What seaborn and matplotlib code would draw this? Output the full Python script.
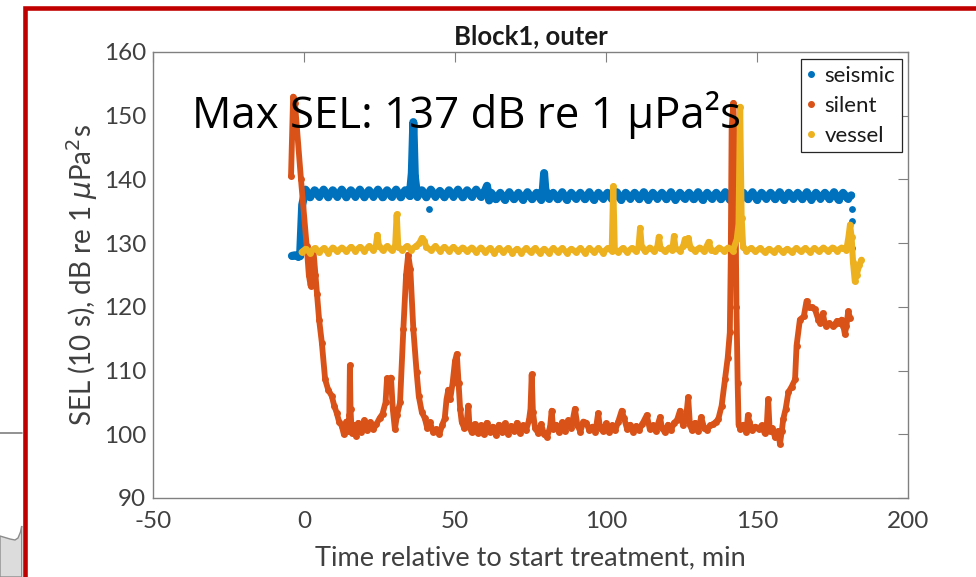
import matplotlib
matplotlib.use("Agg")
import matplotlib.pyplot as plt
from matplotlib.lines import Line2D
from matplotlib.patches import Rectangle, Polygon
import pandas as pd
import seaborn as sns

# ---- chart text and ticks ----
title = "Block1, outer"
x_label = "Time relative to start treatment, min"
y_label = r"SEL (10 s), dB re 1 $\mu$Pa$^2$s"
note = "Max SEL: 137 dB re 1 μPa²s"
series_names = ["seismic", "silent", "vessel"]
x_ticks = [-50, 0, 50, 100, 150, 200]
y_ticks = [90, 100, 110, 120, 130, 140, 150, 160]

# ---- SEL readings: (minutes from treatment start, dB) ----
seismic_readings = [
    (-4.0, 128.0), (-3.0, 128.1), (-2.0, 127.9), (-1.3, 128.0), (-1.0, 131.5), (-0.8, 134.0), (-0.6, 136.0),
    (0.5, 138.4), (2.0, 137.2), (3.5, 138.3), (5.0, 137.3), (6.5, 138.4), (8.0, 137.2), (9.5, 138.3),
    (11.0, 137.3), (12.5, 138.4), (14.0, 137.2), (15.5, 138.3), (17.0, 137.3), (18.5, 138.4), (20.0, 137.2),
    (21.5, 138.3), (23.0, 137.3), (24.5, 138.4), (26.0, 137.2), (27.5, 138.3), (29.0, 137.3), (30.5, 138.4),
    (32.0, 137.2), (33.5, 138.3), (35.0, 137.4), (35.7, 141.0), (36.2, 149.0), (36.7, 140.5),
    (37.5, 137.3), (39.0, 138.3), (40.5, 137.2), (42.0, 138.4), (43.5, 137.3), (45.0, 138.2), (46.5, 137.2),
    (48.0, 138.3), (49.5, 137.3), (51.0, 138.4), (52.5, 137.2), (54.0, 138.3), (55.5, 137.3), (57.0, 138.4),
    (58.5, 137.3), (60.0, 138.3), (60.6, 139.0), (61.3, 136.7), (62.0, 137.9), (63.5, 136.9), (65.0, 137.9),
    (66.5, 136.8), (68.0, 138.0), (69.5, 136.9), (71.0, 137.9), (72.5, 136.8), (74.0, 138.0), (75.5, 136.9),
    (77.0, 137.9), (78.5, 136.8), (79.1, 138.5), (79.5, 141.0), (79.9, 138.5),
    (81.0, 137.0), (82.5, 137.9), (84.0, 136.9), (85.5, 138.0), (87.0, 136.8), (88.5, 137.9), (90.0, 137.0),
    (91.5, 137.9), (93.0, 136.9), (94.5, 138.0), (96.0, 136.8), (97.5, 137.9), (99.0, 137.0), (100.5, 137.9),
    (102.0, 136.9), (103.5, 138.0), (105.0, 136.8), (106.5, 137.9), (108.0, 137.0), (109.5, 137.9),
    (111.0, 136.9), (112.5, 138.0), (114.0, 136.8), (115.5, 137.9), (117.0, 137.0), (118.5, 137.9),
    (120.0, 136.9), (121.5, 138.0), (123.0, 136.8), (124.5, 137.9), (126.0, 137.0), (127.5, 137.9),
    (129.0, 136.9), (130.5, 138.0), (132.0, 136.8), (133.5, 137.9), (135.0, 137.0), (136.5, 137.9),
    (138.0, 136.9), (139.5, 138.0), (141.0, 136.8), (142.5, 137.9), (144.0, 137.0), (145.5, 137.9),
    (147.0, 136.9), (148.5, 138.0), (150.0, 136.8), (151.5, 137.9), (153.0, 137.0), (154.5, 137.9),
    (156.0, 136.9), (157.5, 138.0), (159.0, 136.8), (160.5, 137.9), (162.0, 137.0), (163.5, 137.9),
    (165.0, 136.9), (166.5, 138.0), (168.0, 136.8), (169.5, 137.9), (171.0, 137.0), (172.5, 137.9),
    (174.0, 136.9), (175.5, 138.0), (177.0, 136.8), (178.5, 137.9), (180.0, 137.0), (181.2, 137.5),
]
# isolated seismic readings away from the main track
seismic_isolated = [(41.5, 135.4), (181.3, 135.4), (181.3, 133.4), (181.3, 129.3)]

silent_readings = [
    (-4.3, 140.5), (-3.6, 153.0), (-3.0, 152.0), (-1.0, 140.0), (0.9, 129.5), (1.6, 125.0), (2.2, 123.3),
    (2.7, 126.0), (3.1, 129.0), (3.8, 125.0), (4.3, 122.0), (5.0, 118.0), (5.9, 114.4), (7.0, 108.6),
    (8.0, 107.0), (9.2, 106.0), (10.0, 104.5), (10.8, 103.4), (11.6, 102.0), (12.5, 101.3), (13.2, 100.0),
    (14.0, 102.0), (14.6, 100.5), (15.0, 103.0), (15.2, 110.8), (15.4, 104.0), (15.8, 100.2), (16.5, 101.5),
    (17.2, 99.8), (18.0, 101.8), (19.0, 100.4), (20.0, 102.2), (21.0, 100.6), (22.0, 101.9), (23.0, 100.8),
    (24.0, 101.6), (25.0, 102.5), (26.0, 103.2), (27.0, 105.0), (27.5, 108.8), (28.2, 108.0), (28.8, 108.9),
    (29.4, 104.0), (30.1, 100.8), (30.8, 103.0), (31.8, 105.0), (32.9, 116.5), (33.8, 125.0), (34.5, 128.2),
    (35.2, 126.0), (36.2, 116.5), (37.3, 109.7), (38.0, 106.0), (39.0, 103.5), (40.0, 102.5), (40.8, 101.0),
    (41.7, 101.9), (42.7, 100.4), (43.8, 100.8), (44.8, 100.0), (45.8, 101.5), (46.6, 102.5), (47.2, 105.5),
    (47.8, 107.0), (48.4, 105.5), (49.2, 108.0), (50.0, 111.5), (50.6, 112.6), (51.2, 108.0), (51.7, 104.0),
    (52.2, 102.0), (53.0, 101.0), (53.8, 101.5), (54.4, 104.5), (54.8, 101.2), (55.5, 100.3), (56.5, 101.6),
    (57.5, 100.2), (58.5, 101.4), (59.5, 100.0), (60.5, 101.8), (61.5, 100.4), (62.5, 101.2), (63.5, 99.9),
    (64.5, 101.5), (65.5, 100.3), (66.5, 101.7), (67.5, 100.1), (68.5, 101.3), (69.5, 100.5), (70.5, 101.8),
    (71.5, 100.2), (72.5, 101.4), (73.5, 100.6), (74.5, 102.2), (75.0, 104.0), (75.4, 109.4), (75.8, 103.5),
    (76.5, 101.0), (77.5, 100.2), (78.5, 101.6), (79.5, 100.0), (80.5, 99.6), (81.5, 101.2), (82.0, 103.7),
    (82.5, 100.8), (83.5, 101.5), (84.5, 100.3), (85.5, 101.9), (86.5, 100.5), (87.5, 102.2), (88.5, 101.0),
    (89.7, 104.0), (90.5, 101.5), (91.5, 100.4), (92.5, 102.0), (93.5, 101.8), (94.5, 100.6), (95.5, 101.2),
    (96.5, 100.4), (97.4, 103.3), (98.0, 101.0), (99.0, 100.5), (100.0, 101.7), (101.0, 100.3), (102.0, 101.4),
    (103.0, 100.6), (104.0, 101.9), (105.2, 103.7), (106.0, 102.5), (107.0, 100.8), (108.0, 101.5),
    (109.0, 100.4), (110.0, 101.3), (111.0, 100.7), (112.0, 101.6), (113.5, 103.0), (114.5, 100.8),
    (115.5, 101.4), (116.5, 100.5), (117.9, 102.7), (118.5, 101.0), (119.5, 100.3), (120.5, 101.5),
    (121.5, 100.6), (122.5, 101.8), (123.5, 102.2), (124.5, 103.7), (125.5, 101.4), (126.5, 102.5),
    (127.2, 105.8), (127.8, 101.5), (128.5, 100.6), (129.5, 101.8), (130.5, 100.5), (131.5, 102.7),
    (132.5, 101.0), (133.5, 100.7), (134.5, 101.4), (135.5, 101.6), (136.5, 102.0), (137.2, 102.4),
    (138.3, 104.5), (139.4, 108.6), (140.3, 112.0), (141.0, 116.0), (141.3, 127.0), (141.6, 148.0),
    (142.2, 152.0), (142.8, 140.0), (143.2, 120.0), (143.6, 108.0), (143.9, 101.5), (144.5, 100.8),
    (145.5, 101.5), (146.5, 100.4), (147.0, 103.0), (147.5, 101.9), (148.5, 100.6), (149.5, 101.2),
    (150.5, 100.8), (151.5, 101.4), (152.5, 100.2), (153.2, 101.0), (153.7, 105.5), (154.2, 100.5),
    (155.0, 101.0), (156.0, 99.5), (157.0, 100.5), (157.6, 98.5), (158.2, 100.5), (158.7, 102.4),
    (159.5, 104.0), (160.4, 106.6), (161.5, 107.5), (162.6, 108.6), (163.1, 113.9), (164.2, 118.0),
    (165.5, 118.5), (166.4, 120.9), (167.2, 120.0), (168.1, 119.9), (169.2, 119.6), (170.3, 118.0),
    (171.0, 117.5), (171.8, 119.0), (172.4, 117.5), (173.0, 117.0), (174.0, 117.4), (175.0, 117.0),
    (175.8, 117.3), (176.5, 117.8), (177.3, 117.5), (178.0, 118.0), (178.6, 117.0), (179.1, 115.7),
    (179.6, 117.0), (180.2, 119.3), (180.8, 118.3),
]

vessel_readings = [
    (-0.8, 128.6), (0.5, 129.1), (2.0, 128.5), (3.5, 129.2), (5.0, 128.6), (6.5, 129.2), (8.0, 128.5),
    (9.5, 129.3), (11.0, 128.7), (12.5, 129.3), (14.0, 128.7), (15.5, 129.4), (17.0, 128.8), (18.5, 129.4),
    (20.0, 128.8), (21.5, 129.5), (23.0, 128.9), (23.8, 129.6), (24.3, 131.3), (24.8, 129.6), (26.0, 128.9),
    (27.5, 129.5), (29.0, 128.9), (30.2, 129.6), (30.7, 134.5), (31.2, 129.4), (32.5, 128.9), (34.0, 129.5),
    (35.5, 129.0), (37.0, 129.5), (38.2, 130.0), (39.0, 130.8), (39.8, 130.4), (40.5, 129.4), (42.0, 128.9),
    (43.5, 129.5), (45.0, 128.8), (46.5, 129.4), (48.0, 128.8), (49.5, 129.4), (51.0, 128.7), (52.5, 129.3),
    (54.0, 128.7), (55.5, 129.3), (57.0, 128.6), (58.5, 129.3), (60.0, 128.6), (61.5, 129.2), (63.0, 128.5),
    (64.5, 129.2), (66.0, 128.6), (67.5, 129.2), (69.0, 128.5), (70.5, 129.1), (72.0, 128.5), (73.5, 129.2),
    (75.0, 128.6), (76.5, 129.2), (78.0, 128.5), (79.5, 129.1), (81.0, 128.5), (82.5, 129.2), (84.0, 128.6),
    (85.5, 129.2), (87.0, 128.5), (88.5, 129.1), (90.0, 128.6), (91.5, 129.2), (93.0, 128.5), (94.5, 129.2),
    (96.0, 128.6), (97.5, 129.2), (99.0, 128.5), (100.5, 129.2), (101.9, 128.8), (102.4, 138.9),
    (102.9, 129.0), (104.0, 128.6), (105.5, 129.2), (107.0, 128.6), (108.5, 129.2), (110.0, 128.7),
    (110.8, 129.5), (111.3, 132.4), (111.8, 129.4), (113.0, 128.7), (114.5, 129.3), (116.0, 128.7),
    (117.0, 129.4), (117.5, 131.0), (118.0, 129.3), (119.5, 128.7), (121.0, 129.3), (122.0, 129.0),
    (122.5, 131.1), (123.0, 129.2), (124.5, 128.8), (125.6, 129.6), (126.1, 130.6), (126.6, 129.8),
    (127.3, 130.8), (128.0, 129.2), (129.5, 128.8), (131.0, 129.3), (132.5, 128.7), (134.0, 130.2),
    (134.8, 129.0), (136.0, 128.7), (137.5, 129.3), (139.0, 128.8), (140.5, 129.3), (142.0, 128.8),
    (143.3, 130.6), (143.9, 133.0), (144.4, 151.4), (144.9, 134.0), (145.4, 129.4), (146.5, 128.8),
    (148.0, 129.2), (149.5, 128.7), (151.0, 129.2), (152.5, 128.6), (154.0, 129.1), (155.5, 128.6),
    (157.0, 129.2), (158.5, 128.6), (160.0, 129.1), (161.5, 128.6), (163.0, 129.2), (164.5, 128.7),
    (166.0, 129.2), (167.5, 128.6), (169.0, 129.2), (170.5, 128.7), (172.0, 129.3), (173.5, 128.7),
    (175.0, 129.3), (176.5, 128.8), (178.0, 129.3), (179.6, 129.0), (180.3, 131.0), (180.8, 132.9),
    (181.3, 131.0), (181.8, 127.0), (182.4, 124.0), (183.0, 125.0), (183.8, 126.5), (184.6, 127.4),
]

# ---- style ----
COLORS = {"seismic": "#0072BD", "silent": "#D95319", "vessel": "#EDB120"}
TEXT_GRAY = "#404040"
AXIS_GRAY = "#808080"

sns.set_theme(style="white")
plt.rcParams["font.family"] = ["Lato", "DejaVu Sans"]
plt.rcParams["mathtext.fontset"] = "dejavusans"

fig = plt.figure(figsize=(9.76, 5.77), dpi=100)
fig.patch.set_facecolor("white")

# slide decorations around the plot
fig.add_artist(Rectangle((24.5 / 976, -1.5 / 577), 1.1, 1 - 8 / 577 + 1.5 / 577,
                         transform=fig.transFigure, fill=False, edgecolor="#C00000",
                         linewidth=3.3, zorder=5))
fig.add_artist(Line2D([0, 22 / 976], [1 - 433 / 577] * 2, transform=fig.transFigure,
                      color="#7f7f7f", linewidth=1.2))
shape_px = [(0, 536), (10, 539), (15, 540), (18, 538), (20.5, 532), (21.7, 526), (21.7, 577), (0, 577)]
fig.add_artist(Polygon([(x / 976, 1 - y / 577) for x, y in shape_px], closed=True,
                       transform=fig.transFigure, facecolor="#dcdcdc", edgecolor="#8c8c8c",
                       linewidth=1.0))

ax = fig.add_axes([153 / 976, 1 - 498 / 577, 755 / 976, 446 / 577])
ax.set_facecolor("white")


def frame(readings):
    return pd.DataFrame(readings, columns=["t", "v"])


line_kw = dict(sort=False, estimator=None, legend=False, marker="o", markeredgewidth=0)
sns.lineplot(data=frame(seismic_readings), x="t", y="v", ax=ax, color=COLORS["seismic"],
             linewidth=5.8, markersize=5, **line_kw)
sns.scatterplot(data=frame(seismic_isolated), x="t", y="v", ax=ax, color=COLORS["seismic"],
                s=24, linewidth=0, legend=False)
sns.lineplot(data=frame(silent_readings), x="t", y="v", ax=ax, color=COLORS["silent"],
             linewidth=4.2, markersize=5, **line_kw)
sns.lineplot(data=frame(vessel_readings), x="t", y="v", ax=ax, color=COLORS["vessel"],
             linewidth=4.4, markersize=5, **line_kw)

ax.set_xlim(x_ticks[0], x_ticks[-1])
ax.set_ylim(y_ticks[0], y_ticks[-1])
ax.set_xticks(x_ticks)
ax.set_yticks(y_ticks)
ax.set_xticklabels([str(v) for v in x_ticks])
ax.set_yticklabels([str(v) for v in y_ticks])
ax.tick_params(direction="in", length=7.5, width=0.8, top=True, right=True,
               color=AXIS_GRAY, labelcolor=TEXT_GRAY, labelsize=17.5)
ax.tick_params(axis="x", pad=9)
ax.tick_params(axis="y", pad=5)
for sp in ax.spines.values():
    sp.set_color(AXIS_GRAY)
    sp.set_linewidth(1.0)
    sp.set_visible(True)

ax.set_xlabel(x_label, fontsize=19.5, color=TEXT_GRAY, va="top")
ax.set_ylabel(y_label, fontsize=20, color=TEXT_GRAY)
ax.xaxis.set_label_coords(0.5, -0.106)
ax.yaxis.set_label_coords(-0.07, 0.5)
ax.set_title(title, fontsize=18.5, fontweight="bold", color="#1a1a1a", pad=6)

ax.text(-37, 148.1, note, fontsize=31.5, family=["Open Sans", "DejaVu Sans"], color="black",
        va="baseline", ha="left", zorder=10)

handles = [Line2D([], [], linestyle="none", marker="o", markersize=4, color=COLORS[n]) for n in series_names]
leg = ax.legend(handles, series_names, loc="upper right", bbox_to_anchor=(0.992, 0.984),
                borderaxespad=0, frameon=True, fancybox=False, framealpha=1, fontsize=16,
                handlelength=0.3, handletextpad=0.45, labelspacing=0.45, borderpad=0.3)
leg.get_frame().set_edgecolor("#262626")
leg.get_frame().set_linewidth(0.9)
for t in leg.get_texts():
    t.set_color("#1a1a1a")

fig.savefig("out.png", dpi=100, facecolor="white")
